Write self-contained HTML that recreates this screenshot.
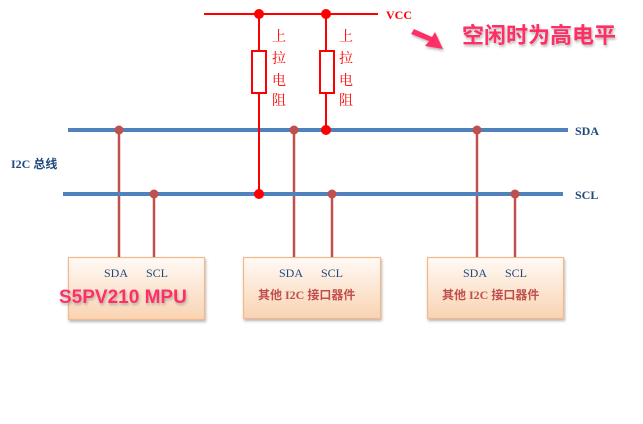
<!DOCTYPE html>
<html><head><meta charset="utf-8"><style>
html,body{margin:0;padding:0;background:#fff;}
svg{display:block;}
text{font-family:"Liberation Serif","Noto Serif CJK SC",serif;}
.cj{font-family:"Liberation Sans","Noto Sans CJK SC",sans-serif;}
</style></head><body>
<svg width="643" height="424" viewBox="0 0 643 424" xmlns="http://www.w3.org/2000/svg">
<defs>
<linearGradient id="bx" x1="0" y1="0" x2="0" y2="1">
<stop offset="0" stop-color="#fffaf6"/><stop offset="1" stop-color="#f9d3b2"/>
</linearGradient>
<filter id="sh" x="-10%" y="-10%" width="130%" height="140%"><feDropShadow dx="1" dy="2" stdDeviation="1.2" flood-color="#888" flood-opacity="0.6"/></filter>
</defs>
<g stroke="#f4b98a" stroke-width="1.2" fill="url(#bx)">
<rect x="68.5" y="257.5" width="136" height="62" filter="url(#sh)"/>
<rect x="243.5" y="257.5" width="137" height="61" filter="url(#sh)"/>
<rect x="427.5" y="257.5" width="136" height="61" filter="url(#sh)"/>
</g>
<g stroke="#c0504d" stroke-width="2.5">
<line x1="119" y1="130" x2="119" y2="257"/><line x1="154" y1="194" x2="154" y2="257"/>
<line x1="294" y1="130" x2="294" y2="257"/><line x1="332" y1="194" x2="332" y2="257"/>
<line x1="477" y1="130" x2="477" y2="257"/><line x1="515" y1="194" x2="515" y2="257"/>
</g>
<g stroke="#4f81bd" stroke-width="4">
<line x1="68" y1="130" x2="568" y2="130"/>
<line x1="63" y1="194" x2="563" y2="194"/>
</g>
<g fill="#c0504d">
<circle cx="119" cy="130" r="4.5"/><circle cx="294" cy="130" r="4.5"/><circle cx="477" cy="130" r="4.5"/>
<circle cx="154" cy="194" r="4.5"/><circle cx="332" cy="194" r="4.5"/><circle cx="515" cy="194" r="4.5"/>
</g>
<g stroke="#ff0000" stroke-width="2" fill="#fff">
<line x1="204" y1="14" x2="378" y2="14"/>
<line x1="259" y1="14" x2="259" y2="194"/>
<line x1="326" y1="14" x2="326" y2="130"/>
<rect x="252" y="51" width="14" height="42"/>
<rect x="320" y="51" width="14" height="42"/>
</g>
<g fill="#ff0000">
<circle cx="259" cy="14" r="5"/><circle cx="326" cy="14" r="5"/>
<circle cx="259" cy="194" r="5"/><circle cx="326" cy="130" r="5"/>
</g>
<text x="386" y="19" font-size="12" font-weight="bold" fill="#ff0000">VCC</text>
<g class="cj" font-size="14" fill="#ff0000">
<text x="272" y="41">上</text><text x="272" y="63">拉</text><text x="272" y="85">电</text><text x="272" y="105">阻</text>
<text x="339" y="41">上</text><text x="339" y="63">拉</text><text x="339" y="85">电</text><text x="339" y="105">阻</text>
</g>
<polygon points="414,29 432,37 435,32 443,49 425,46 429,41 411,34" fill="#ff2f66" filter="url(#sh)"/>
<text class="cj" x="462" y="43" font-size="22" font-weight="bold" fill="#ff2f66" filter="url(#sh)">空闲时为高电平</text>
<g font-weight="bold" fill="#1f497d" font-size="12">
<text x="575" y="135">SDA</text><text x="575" y="199">SCL</text>
<text x="11" y="168">I2C <tspan class="cj">总线</tspan></text>
</g>
<g font-size="12" fill="#1f497d">
<text x="104" y="277">SDA</text><text x="146" y="277">SCL</text>
<text x="279" y="277">SDA</text><text x="321" y="277">SCL</text>
<text x="463" y="277">SDA</text><text x="505" y="277">SCL</text>
</g>
<text class="cj" x="59" y="303" font-size="19" font-weight="bold" fill="#ff2f66" filter="url(#sh)">S5PV210 MPU</text>
<g font-size="12" font-weight="bold" fill="#c0504d">
<text x="258" y="299"><tspan class="cj">其他</tspan> I2C <tspan class="cj">接口器件</tspan></text>
<text x="442" y="299"><tspan class="cj">其他</tspan> I2C <tspan class="cj">接口器件</tspan></text>
</g>
</svg>
</body></html>
